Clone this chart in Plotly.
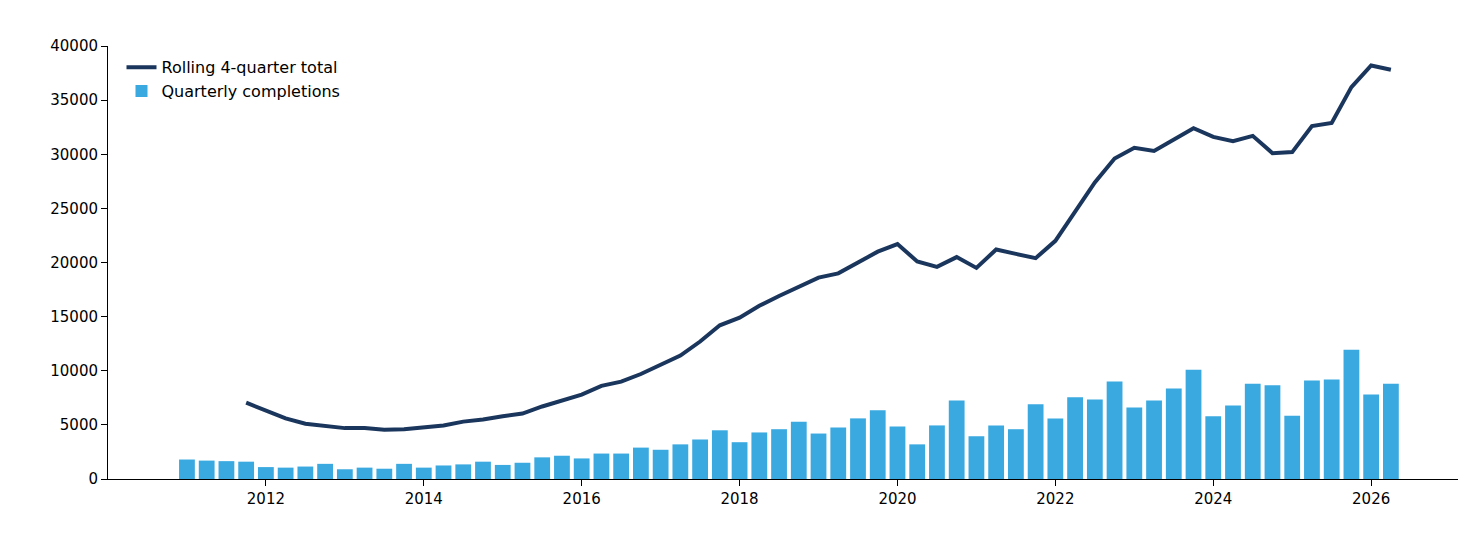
import plotly.graph_objects as go

# quarterly completions, 2011 Q1 .. 2026 Q2
bar_start = 2011.0
quarterly = [1800, 1700, 1650, 1600, 1100, 1050, 1150, 1400, 900, 1050, 950, 1400,
             1050, 1250, 1350, 1600, 1300, 1500, 2000, 2150, 1900, 2350, 2350, 2900,
             2700, 3200, 3650, 4500, 3400, 4300, 4600, 5300, 4200, 4750, 5600, 6350,
             4850, 3200, 4950, 7250, 3950, 4950, 4600, 6900, 5600, 7550, 7350, 9000,
             6600, 7250, 8350, 10100, 5800, 6800, 8800, 8650, 5850, 9100, 9200, 11950,
             7800, 8800]

# rolling 4-quarter total, 2011 Q4 .. 2026 Q2
line_start = 2011.75
rolling = [7050, 6300, 5600, 5100, 4900, 4700, 4700, 4550, 4600, 4800, 4950, 5300,
           5500, 5800, 6050, 6700, 7250, 7800, 8600, 9000, 9700, 10500, 11400, 12700,
           14200, 14900, 16000, 16900, 17800, 18600, 19000, 20000, 21000, 21700, 20100,
           19600, 20500, 19500, 21200, 20800, 20400, 22000, 24700, 27400, 29600, 30600,
           30300, 31300, 32400, 31600, 31200, 31700, 30100, 30200, 32600, 32900, 36200,
           38200, 37800]

bar_x = [bar_start + i * 0.25 for i in range(len(quarterly))]
line_x = [line_start + i * 0.25 for i in range(len(rolling))]

fig = go.Figure()
fig.add_trace(go.Bar(x=bar_x, y=quarterly, name="Quarterly completions",
                     marker=dict(color="#3aa9e0", line_width=0), width=0.2))
fig.add_trace(go.Scatter(x=line_x, y=rolling, name="Rolling 4-quarter total",
                         mode="lines", line=dict(color="#1b365d", width=4)))

fig.update_layout(
    width=1480, height=540, plot_bgcolor="white", paper_bgcolor="white",
    margin=dict(l=100, r=30, t=38, b=69),
    font=dict(family="DejaVu Sans", size=15, color="black"),
    showlegend=True,
    legend=dict(x=0.01, y=0.99, xanchor="left", yanchor="top", traceorder="reversed",
                bgcolor="rgba(0,0,0,0)", font=dict(size=16)),
)
fig.update_xaxes(range=[2010.0, 2027.1], tickvals=list(range(2012, 2027, 2)),
                 showgrid=False, zeroline=False, showline=True, linecolor="black",
                 ticks="outside", ticklen=6, tickcolor="black", automargin=False)
fig.update_yaxes(range=[0, 40000], tickvals=list(range(0, 40001, 5000)),
                 tickformat="d",
                 showgrid=False, zeroline=False, showline=True, linecolor="black",
                 ticks="outside", ticklen=6, tickcolor="black", automargin=False)

fig.write_html("out.html")
